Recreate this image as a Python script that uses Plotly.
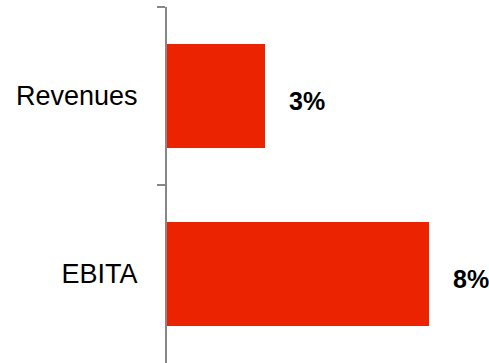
import plotly.graph_objects as go

# Growth figures per line item
categories = ["Revenues", "EBITA"]
growth_pct = [3.0, 8.0]
value_labels = [f"{v:.0f}%" for v in growth_pct]

BAR_RED = "#EB2300"
AXIS_GREY = "#878787"

fig = go.Figure(
    go.Bar(
        y=categories,
        x=growth_pct,
        orientation="h",
        width=0.585,
        marker=dict(color=BAR_RED, line=dict(width=0)),
        hoverinfo="skip",
    )
)

# Bold value labels to the right of each bar
for cat, val, lab in zip(categories, growth_pct, value_labels):
    fig.add_annotation(
        x=val, y=cat, text=f"<b>{lab}</b>", showarrow=False,
        xanchor="left", yanchor="middle", xshift=22, yshift=-5,
        font=dict(family="Liberation Sans, Arial, sans-serif", size=25, color="#000000"),
    )

fig.update_layout(
    width=489, height=363,
    margin=dict(l=167, r=0, t=7, b=0),
    paper_bgcolor="white", plot_bgcolor="white",
    showlegend=False,
    bargap=0,
    xaxis=dict(range=[0, 9.83], visible=False, fixedrange=True),
    yaxis=dict(
        type="category",
        categoryorder="array", categoryarray=categories,
        autorange="reversed",
        showline=True, linecolor=AXIS_GREY, linewidth=2,
        ticks="outside", tickson="boundaries", ticklen=8,
        tickcolor=AXIS_GREY, tickwidth=2,
        showgrid=False, zeroline=False,
        ticklabelstandoff=22,
        tickfont=dict(family="Liberation Sans, Arial, sans-serif", size=27, color="#000000"),
    ),
)

fig.write_html("out.html")
